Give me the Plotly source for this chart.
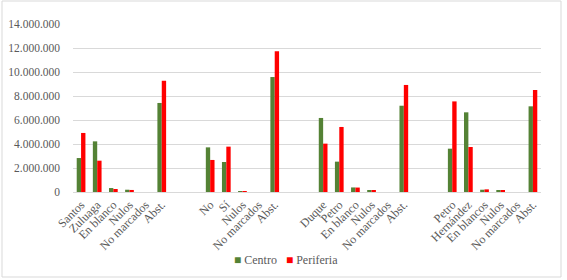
import plotly.graph_objects as go

# Categories by group (blank slots separate groups)
group1 = ["Santos", "Zuluaga", "En blanco", "Nulos", "No marcados", "Abst."]
group2 = ["No", "Sí", "Nulos", "No marcados", "Abst."]
group3 = ["Duque", "Petro", "En blanco", "Nulos", "No marcados", "Abst."]
group4 = ["Petro", "Hernández", "En blancos", "Nulos", "No marcados", "Abst."]

centro1 = [2830000, 4220000, 330000, 190000, 0, 7420000]
periferia1 = [4920000, 2610000, 250000, 170000, 0, 9270000]
centro2 = [3720000, 2500000, 80000, 0, 9580000]
periferia2 = [2670000, 3780000, 80000, 0, 11720000]
centro3 = [6170000, 2530000, 380000, 110000, 0, 7190000]
periferia3 = [4030000, 5420000, 370000, 90000, 0, 8920000]
centro4 = [3610000, 6640000, 190000, 130000, 0, 7140000]
periferia4 = [7550000, 3750000, 220000, 130000, 0, 8500000]

y_tickvals = [0, 2000000, 4000000, 6000000, 8000000, 10000000, 12000000, 14000000]
y_ticktext = ["0", "2.000.000", "4.000.000", "6.000.000", "8.000.000",
              "10.000.000", "12.000.000", "14.000.000"]

series_names = ["Centro", "Periferia"]

GAP = 2  # blank category slots between groups

groups = [(group1, centro1, periferia1), (group2, centro2, periferia2),
          (group3, centro3, periferia3), (group4, centro4, periferia4)]

xs, labels, c_vals, p_vals = [], [], [], []
pos = 0
for cats, cv, pv in groups:
    for cat, c, p in zip(cats, cv, pv):
        xs.append(pos)
        labels.append(cat)
        c_vals.append(c)
        p_vals.append(p)
        pos += 1
    pos += GAP
last = xs[-1]

GREEN = "#548235"
RED = "#FF0000"
FONT = "Liberation Serif, 'Times New Roman', DejaVu Serif, serif"
GRAY = "#595959"

fig = go.Figure()
fig.add_trace(go.Bar(x=xs, y=c_vals, name=series_names[0], marker_color=GREEN,
                     marker_line_width=0))
fig.add_trace(go.Bar(x=xs, y=p_vals, name=series_names[1], marker_color=RED,
                     marker_line_width=0))

W, H = 567, 280
ml, mr, mt, mb = 73, 26, 24, 88
pw = W - ml - mr
ph = H - mt - mb

legend_text = (f"<span style='color:{GREEN}'>■</span> {series_names[0]}"
               f"   <span style='color:{RED}'>■</span> {series_names[1]}")

fig.update_layout(
    width=W, height=H,
    margin=dict(l=ml, r=mr, t=mt, b=mb, pad=0, autoexpand=False),
    paper_bgcolor="white", plot_bgcolor="white",
    barmode="group", bargap=0.46, bargroupgap=0,
    font=dict(family=FONT, size=11, color=GRAY),
    showlegend=False,
    xaxis=dict(range=[-0.5, last + 0.5], tickvals=xs, ticktext=labels,
               tickangle=-45, showgrid=False, zeroline=False, automargin=False,
               showline=True, linecolor="#d9d9d9", linewidth=1,
               ticks="", tickfont=dict(family=FONT, size=12, color=GRAY)),
    yaxis=dict(range=[0, 14000000], tickvals=y_tickvals, ticktext=y_ticktext,
               showgrid=True, gridcolor="#d9d9d9", gridwidth=1, automargin=False,
               zeroline=False, showline=False, ticks="",
               ticklabelstandoff=12,
               tickfont=dict(family=FONT, size=11.5, color=GRAY)),
    annotations=[dict(text=legend_text, xref="paper", yref="paper",
                      x=(286 - ml) / pw, y=(mt + ph - 260) / ph,
                      xanchor="center", yanchor="middle", showarrow=False,
                      font=dict(family=FONT, size=12, color=GRAY))],
    shapes=[dict(type="rect", xref="paper", yref="paper",
                 x0=(2 - ml) / pw, x1=(561 - ml) / pw,
                 y0=(mt + ph - 277) / ph, y1=(mt + ph - 1) / ph,
                 line=dict(color="#d9d9d9", width=1), fillcolor="rgba(0,0,0,0)",
                 layer="below")],
)

fig.write_html("out.html",
               config={"displayModeBar": False},
               post_script="document.body.style.margin='0';")
